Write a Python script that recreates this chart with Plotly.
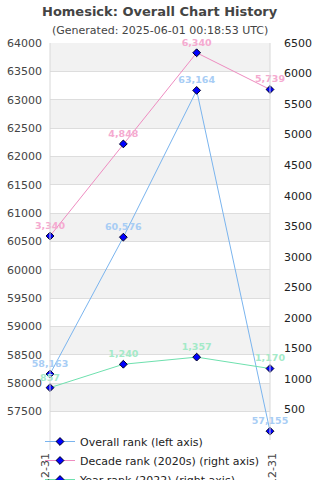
import plotly.graph_objects as go

dates = ["2022-12-31", "2023-12-31", "2024-12-31", "2025-12-31"]
overall_rank = [58163, 60576, 63164, 57155]
decade_rank = [3340, 4848, 6340, 5739]
year_rank = [857, 1240, 1357, 1170]
left_ticks = list(range(57500, 64001, 500))
right_ticks = list(range(500, 6501, 500))

xs = list(range(len(dates)))
FONT = "DejaVu Sans"

def fmt(v):
    return f"{v:,}"

marker = dict(symbol="diamond", size=6, color="#0000ff", line=dict(color="#000022", width=1))

fig = go.Figure()
fig.add_trace(go.Scatter(
    x=xs, y=overall_rank, name="Overall rank (left axis)", mode="lines+markers+text",
    line=dict(color="#7ab4ee", width=1), marker=marker,
    text=[fmt(v) for v in overall_rank], textposition="top center",
    textfont=dict(color="#a8cdf5", size=9.5, family=FONT, weight="bold"), cliponaxis=False, yaxis="y"))
fig.add_trace(go.Scatter(
    x=xs, y=decade_rank, name="Decade rank (2020s) (right axis)", mode="lines+markers+text",
    line=dict(color="#ee8cc0", width=1), marker=marker,
    text=[fmt(v) for v in decade_rank], textposition="top center",
    textfont=dict(color="#f5aad0", size=9.5, family=FONT, weight="bold"), cliponaxis=False, yaxis="y2"))
fig.add_trace(go.Scatter(
    x=xs, y=year_rank, name="Year rank (2022) (right axis)", mode="lines+markers+text",
    line=dict(color="#6ee0ae", width=1), marker=marker,
    text=[fmt(v) for v in year_rank], textposition="top center",
    textfont=dict(color="#a4eac8", size=9.5, family=FONT, weight="bold"), cliponaxis=False, yaxis="y2"))

shapes = []
for lo in range(57500, 64000, 1000):
    shapes.append(dict(type="rect", xref="paper", yref="y", x0=0, x1=1, y0=lo, y1=lo + 500,
                       fillcolor="#f2f2f2", line=dict(width=0), layer="below"))
shapes.append(dict(type="line", xref="paper", yref="paper", x0=0, x1=0, y0=-0.025, y1=1,
                   line=dict(color="#d8d8d8", width=1)))
shapes.append(dict(type="line", xref="paper", yref="paper", x0=1, x1=1, y0=-0.0, y1=1,
                   line=dict(color="#d8d8d8", width=1)))

annotations = [
    dict(text="<b>Homesick: Overall Chart History</b>", xref="paper", yref="paper", x=0.5, y=1,
         yshift=32, showarrow=False, font=dict(size=13, color="#444444", family=FONT), xanchor="center", yanchor="middle"),
    dict(text="(Generated: 2025-06-01 00:18:53 UTC)", xref="paper", yref="paper", x=0.5, y=1,
         yshift=13, showarrow=False, font=dict(size=11, color="#444444", family=FONT), xanchor="center", yanchor="middle"),
    dict(text=dates[0], x=xs[0], xref="x", yref="paper", y=0, yshift=-11, textangle=-90,
         showarrow=False, font=dict(size=11, color="#444444", family=FONT), xanchor="center", yanchor="top", xshift=-5),
    dict(text=dates[-1], x=xs[-1], xref="x", yref="paper", y=0, yshift=-11, textangle=-90,
         showarrow=False, font=dict(size=11, color="#444444", family=FONT), xanchor="center", yanchor="top", xshift=2),
]

fig.update_layout(
    width=320, height=480, margin=dict(l=50, r=50, t=43, b=40, autoexpand=False),
    paper_bgcolor="white", plot_bgcolor="white",
    font=dict(family=FONT, size=11, color="#333333"),
    shapes=shapes, annotations=annotations,
    xaxis=dict(range=[0, len(dates) - 1], showticklabels=False, showgrid=False, zeroline=False,
               ticks="", showline=False, automargin=False),
    yaxis=dict(range=[57000, 64000], tickvals=left_ticks, tickformat="d", showgrid=True, gridcolor="#dddddd",
               zeroline=False, tickfont=dict(size=11, color="#444444"), ticklabelstandoff=7, automargin=False),
    yaxis2=dict(range=[0, 6500], tickvals=right_ticks, tickformat="d", overlaying="y", side="right", showgrid=False,
                zeroline=False, tickfont=dict(size=11, color="#222222"), ticklabelstandoff=13, automargin=False),
    legend=dict(x=40 / 320, y=(480 - 427) / 480, xref="container", yref="container", xanchor="left", yanchor="top",
                bgcolor="rgba(0,0,0,0)", font=dict(size=11, color="#222222"), tracegroupgap=0, itemwidth=30),
    showlegend=True,
)

fig.write_html("out.html")
